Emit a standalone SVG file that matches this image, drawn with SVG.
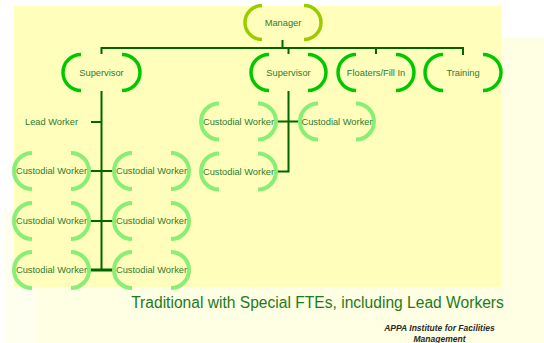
<svg xmlns="http://www.w3.org/2000/svg" width="544" height="343" viewBox="0 0 544 343">
<style>
.arc{fill:none;stroke-linecap:butt}
.mgr{stroke:#99CC00;stroke-width:3.5}
.sup{stroke:#00C800;stroke-width:3.5}
.wrk{stroke:#88EE77;stroke-width:4}
.t{font-family:"Liberation Sans",Arial,sans-serif;font-size:9.3px;fill:#2E7B2E;text-anchor:middle}
.con{fill:none;stroke:#006600;stroke-width:2}
</style>
<rect x="0" y="0" width="544" height="343" fill="#FFFFFF"/>
<rect x="4" y="210" width="40" height="133" fill="#FFFFF0"/>
<rect x="36" y="38" width="508" height="305" fill="#FFFFE3"/>
<rect x="14" y="6" width="487" height="281" fill="#FFFFBB"/>

<g id="connectors">
<path class="con" d="M282.5,40 V48 M101.5,48 H463 M101.5,47 V54 M288.5,48 V54 M376,47 V54 M463,47 V55"/>
<path class="con" d="M101.5,91 V271 M91,122 H101.5 M90,171 H113 M90,221 H113"/>
<path class="con" style="stroke-width:3" d="M90,270 H113"/>
<path class="con" d="M288.5,91 V172.5 M277,121.5 H300 M277,171.5 H288.5"/>
</g>

<g id="manager">
<path class="arc mgr" d="M262,5.5 A17,17 0 0 0 262,39.5 M304,5.5 A17,17 0 0 1 304,39.5"/>
<text class="t" x="283" y="25.8">Manager</text>
</g>
<g id="supervisor1">
<path class="arc sup" d="M81,54.5 A18,18 0 0 0 81,90.5 M122,54.5 A18,18 0 0 1 122,90.5"/>
<text class="t" x="101.5" y="75.8">Supervisor</text>
</g>
<g id="supervisor2">
<path class="arc sup" d="M269,54.5 A18,18 0 0 0 269,90.5 M308,54.5 A18,18 0 0 1 308,90.5"/>
<text class="t" x="288.5" y="75.8">Supervisor</text>
</g>
<g id="floaters">
<path class="arc sup" d="M356,54.5 A18,18 0 0 0 356,90.5 M396,54.5 A18,18 0 0 1 396,90.5"/>
<text class="t" x="376" y="75.8">Floaters/Fill In</text>
</g>
<g id="training">
<path class="arc sup" d="M443,54.5 A18,18 0 0 0 443,90.5 M483,54.5 A18,18 0 0 1 483,90.5"/>
<text class="t" x="463" y="75.8">Training</text>
</g>

<g id="leadworker">
<text class="t" x="51.5" y="125.3">Lead Worker</text>
</g>

<g id="cw-l1">
<path class="arc wrk" d="M32,153 A18,18 0 0 0 32,189 M71,153 A18,18 0 0 1 71,189"/>
<text class="t" x="51.5" y="174.3">Custodial Worker</text>
</g>
<g id="cw-r1">
<path class="arc wrk" d="M132,153 A18,18 0 0 0 132,189 M171,153 A18,18 0 0 1 171,189"/>
<text class="t" x="151.5" y="174.3">Custodial Worker</text>
</g>
<g id="cw-l2">
<path class="arc wrk" d="M32,203 A18,18 0 0 0 32,239 M71,203 A18,18 0 0 1 71,239"/>
<text class="t" x="51.5" y="224.3">Custodial Worker</text>
</g>
<g id="cw-r2">
<path class="arc wrk" d="M132,203 A18,18 0 0 0 132,239 M171,203 A18,18 0 0 1 171,239"/>
<text class="t" x="151.5" y="224.3">Custodial Worker</text>
</g>
<g id="cw-l3">
<path class="arc wrk" d="M32,252 A18,18 0 0 0 32,288 M71,252 A18,18 0 0 1 71,288"/>
<text class="t" x="51.5" y="273.3">Custodial Worker</text>
</g>
<g id="cw-r3">
<path class="arc wrk" d="M132,252 A18,18 0 0 0 132,288 M171,252 A18,18 0 0 1 171,288"/>
<text class="t" x="151.5" y="273.3">Custodial Worker</text>
</g>

<g id="cw-s2a">
<path class="arc wrk" d="M219,103.5 A18,18 0 0 0 219,139.5 M258,103.5 A18,18 0 0 1 258,139.5"/>
<text class="t" x="238.5" y="124.8">Custodial Worker</text>
</g>
<g id="cw-s2b">
<path class="arc wrk" d="M318,103.5 A18,18 0 0 0 318,139.5 M356,103.5 A18,18 0 0 1 356,139.5"/>
<text class="t" x="337" y="124.8">Custodial Worker</text>
</g>
<g id="cw-s2c">
<path class="arc wrk" d="M219,153.5 A18,18 0 0 0 219,189.5 M258,153.5 A18,18 0 0 1 258,189.5"/>
<text class="t" x="238.5" y="174.8">Custodial Worker</text>
</g>

<text x="317.5" y="308" font-family="'Liberation Sans',Arial,sans-serif" font-size="15.6" fill="#1E7A1E" text-anchor="middle">Traditional with Special FTEs, including Lead Workers</text>
<text x="439.5" y="330.5" font-family="'Liberation Sans',Arial,sans-serif" font-size="8.5" font-weight="bold" font-style="italic" fill="#2A2A2A" text-anchor="middle">APPA Institute for Facilities</text>
<text x="439.5" y="341.5" font-family="'Liberation Sans',Arial,sans-serif" font-size="8.5" font-weight="bold" font-style="italic" fill="#2A2A2A" text-anchor="middle">Management</text>
</svg>
